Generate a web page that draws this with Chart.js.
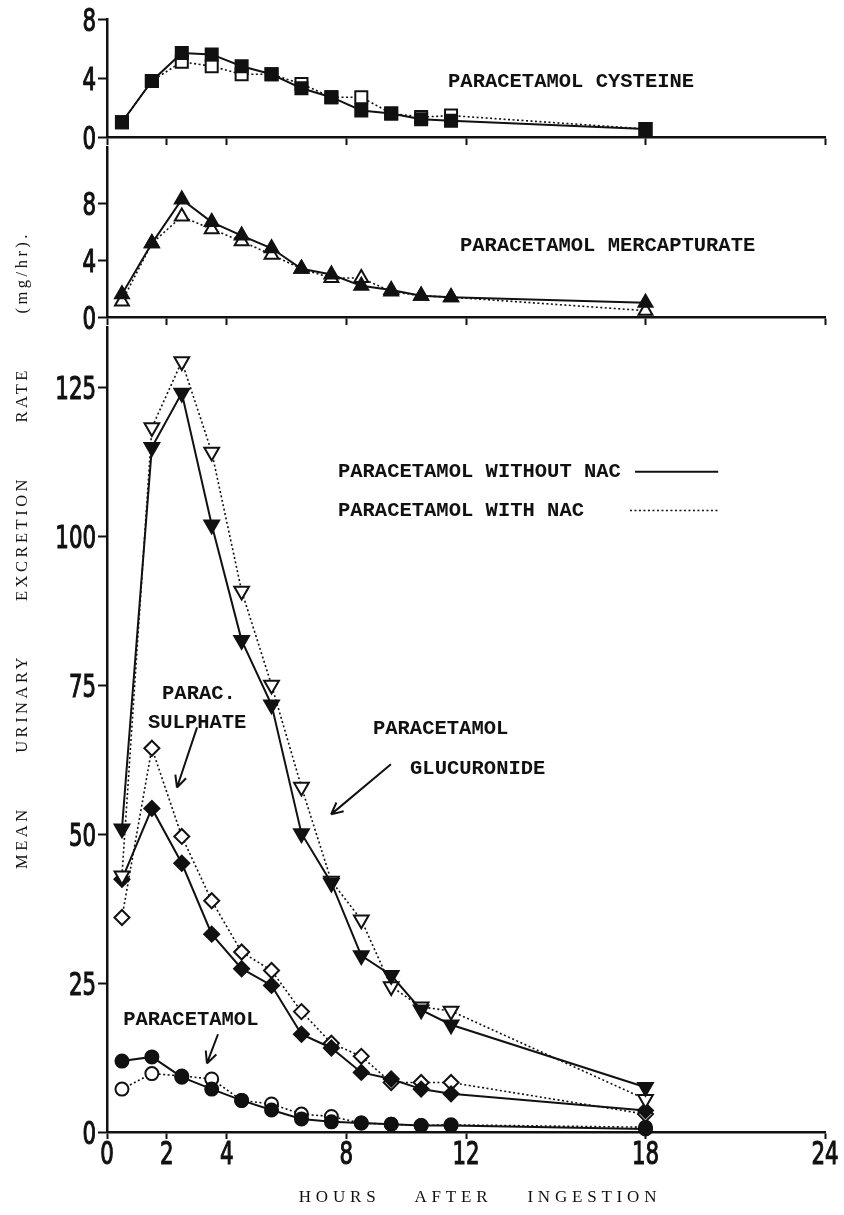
<!DOCTYPE html>
<html lang="en">
<head>
<meta charset="UTF-8">
<title>Mean urinary excretion rate of paracetamol and metabolites</title>
<script src="https://cdn.jsdelivr.net/npm/chart.js@4"></script>
<style>
  body { margin: 0; background: #fff; }
  .figure { position: relative; width: 844px; height: 1215px; overflow: hidden; background: #fff; }
  .figure canvas { position: absolute; left: 0; }
  #ytitle {
    position: absolute; left: 22px; top: 550px;
    transform: translate(-50%, -50%) rotate(-90deg);
    white-space: nowrap; color: #111;
    font: 16.5px 'Liberation Serif', 'DejaVu Serif', serif;
    letter-spacing: 3.5px; word-spacing: 46px;
  }
  #xtitle {
    position: absolute; left: 480px; top: 1197px;
    transform: translate(-50%, -50%);
    white-space: nowrap; color: #111;
    font: 17px 'Liberation Serif', 'DejaVu Serif', serif;
    letter-spacing: 4.8px; word-spacing: 26px;
  }
</style>
</head>
<body>
<div class="figure">
  <canvas id="cysteine" style="top:0px"></canvas>
  <canvas id="mercapturate" style="top:137px"></canvas>
  <canvas id="main" style="top:317px"></canvas>
  <div id="ytitle">MEAN URINARY EXCRETION RATE (mg/hr).</div>
  <div id="xtitle">HOURS AFTER INGESTION</div>
</div>

<script>
// sampling times (h) and axis ticks
const hours = [0.5, 1.5, 2.5, 3.5, 4.5, 5.5, 6.5, 7.5, 8.5, 9.5, 10.5, 11.5, 18];
const xTicks = [0, 2, 4, 8, 12, 18, 24];
const smallTicks = [0, 4, 8];
const mainTicks = [0, 25, 50, 75, 100, 125];

// mg/hr, without NAC (solid) and with NAC (dotted)
const cysteineWithout = [1.0, 3.8, 5.7, 5.6, 4.8, 4.25, 3.3, 2.7, 1.8, 1.6, 1.2, 1.1, 0.55];
const cysteineWith = [1.0, 3.8, 5.1, 4.8, 4.25, 4.25, 3.6, 2.7, 2.7, 1.6, 1.35, 1.45, 0.55];
const mercapWithout = [1.6, 5.2, 8.3, 6.7, 5.75, 4.85, 3.4, 3.0, 2.2, 1.9, 1.5, 1.4, 1.0];
const mercapWith = [1.1, 5.2, 7.1, 6.2, 5.35, 4.4, 3.4, 2.75, 2.75, 1.8, 1.5, 1.4, 0.45];
const glucWithout = [50.9, 114.9, 124.0, 101.9, 82.5, 71.7, 50.1, 41.8, 29.6, 26.3, 20.5, 18.0, 7.5];
const glucWith = [43.0, 118.2, 129.3, 114.1, 90.8, 75.0, 57.9, 42.1, 35.6, 24.4, 21.0, 20.3, 5.5];
const sulphWithout = [42.4, 54.3, 45.1, 33.2, 27.4, 24.6, 16.4, 14.1, 10.0, 8.9, 7.2, 6.4, 3.6];
const sulphWith = [36.0, 64.4, 49.6, 38.8, 30.2, 27.1, 20.2, 14.9, 12.7, 8.3, 8.3, 8.3, 3.0];
const paraWithout = [11.9, 12.6, 9.2, 7.2, 5.3, 3.7, 2.2, 1.7, 1.5, 1.3, 1.1, 1.1, 0.5];
const paraWith = [7.2, 9.8, 9.4, 8.9, 5.3, 4.7, 3.0, 2.6, 1.5, 1.3, 1.1, 1.2, 0.8];

const INK = '#111';
const typeFont = "bold 20.5px 'Liberation Mono', 'DejaVu Sans Mono', monospace";
// tall narrow numerals: condensed face squeezed sideways
const numFont = "32px 'DejaVu Sans Condensed', 'DejaVu Sans', sans-serif";
const numSqueeze = 0.74;
const numCap = 23.3;

function series(values, dotted, filled, pointStyle, radius, rotation) {
  return {
    data: hours.map((h, i) => ({ x: h, y: values[i] })),
    borderColor: INK,
    borderWidth: dotted ? 1.6 : 2,
    borderDash: dotted ? [2, 2.5] : [],
    pointStyle: pointStyle,
    pointRadius: radius,
    pointRotation: rotation || 0,
    pointBackgroundColor: filled ? INK : '#fff',
    pointBorderColor: INK,
    pointBorderWidth: 2,
    tension: 0,
    clip: false
  };
}

function squeezedText(ctx, text, x, y, align) {
  ctx.save();
  ctx.translate(x, y);
  ctx.scale(numSqueeze, 1);
  ctx.textAlign = align;
  ctx.lineWidth = 1.1;
  ctx.fillText(text, 0, 0);
  ctx.strokeText(text, 0, 0);
  ctx.restore();
}

// tick numerals, free text, arrows and line keys (placed in data units)
const notesPlugin = {
  id: 'notes',
  afterDatasetsDraw(chart, args, opts) {
    const { ctx, scales: { x, y } } = chart;
    ctx.save();
    ctx.fillStyle = INK;
    ctx.strokeStyle = INK;

    ctx.font = numFont;
    ctx.textBaseline = 'alphabetic';
    y.ticks.forEach(t => {
      squeezedText(ctx, String(t.value), y.right - 11, y.getPixelForValue(t.value) + numCap / 2, 'right');
    });
    if (opts.xLabels) {
      x.ticks.forEach(t => {
        squeezedText(ctx, String(t.value), x.getPixelForValue(t.value), x.top + 9 + numCap, 'center');
      });
    }

    ctx.font = typeFont;
    ctx.textBaseline = 'middle';
    ctx.textAlign = 'left';
    (opts.texts || []).forEach(t => {
      ctx.fillText(t.text, x.getPixelForValue(t.x), y.getPixelForValue(t.y));
    });
    (opts.arrows || []).forEach(a => {
      const x0 = x.getPixelForValue(a.from[0]), y0 = y.getPixelForValue(a.from[1]);
      const x1 = x.getPixelForValue(a.to[0]), y1 = y.getPixelForValue(a.to[1]);
      const ang = Math.atan2(y1 - y0, x1 - x0);
      ctx.lineWidth = 2;
      ctx.setLineDash([]);
      ctx.beginPath();
      ctx.moveTo(x0, y0);
      ctx.lineTo(x1, y1);
      [-0.45, 0.45].forEach(d => {
        ctx.moveTo(x1, y1);
        ctx.lineTo(x1 - 13 * Math.cos(ang + d), y1 - 13 * Math.sin(ang + d));
      });
      ctx.stroke();
    });
    (opts.keys || []).forEach(k => {
      const yy = y.getPixelForValue(k.y);
      ctx.lineWidth = k.dotted ? 1.6 : 2;
      ctx.setLineDash(k.dotted ? [2, 2.5] : []);
      ctx.beginPath();
      ctx.moveTo(x.getPixelForValue(k.x0), yy);
      ctx.lineTo(x.getPixelForValue(k.x1), yy);
      ctx.stroke();
    });
    ctx.restore();
  }
};

function makeChart(id, height, yMax, yTicks, datasets, notes, showX) {
  const canvas = document.getElementById(id);
  canvas.width = 844;
  canvas.height = height;
  canvas.style.width = '844px';
  canvas.style.height = height + 'px';
  notes.xLabels = showX;
  return new Chart(canvas, {
    type: 'line',
    data: { datasets: datasets },
    plugins: [notesPlugin],
    options: {
      responsive: false,
      animation: false,
      events: [],
      layout: { padding: { top: id === 'cysteine' ? 19 : 0, right: 19, left: 0, bottom: 0 } },
      plugins: { legend: { display: false }, tooltip: { enabled: false }, notes: notes },
      scales: {
        x: {
          type: 'linear', min: 0, max: 24,
          afterBuildTicks: s => { s.ticks = xTicks.map(v => ({ value: v })); },
          afterFit: s => { s.height = showX ? 83 : 20; s.paddingLeft = 0; s.paddingRight = 0; },
          border: { display: true, color: INK, width: 2.5 },
          grid: { display: true, drawOnChartArea: false, drawTicks: true, tickLength: showX ? 7 : 8, tickWidth: 2, tickColor: INK },
          ticks: { display: false }
        },
        y: {
          type: 'linear', min: 0, max: yMax,
          afterBuildTicks: s => { s.ticks = yTicks.map(v => ({ value: v })); },
          afterFit: s => { s.width = 107; s.paddingTop = 0; s.paddingBottom = 0; },
          border: { display: true, color: INK, width: 2.5 },
          grid: { display: true, drawOnChartArea: false, drawTicks: true, tickLength: 9, tickWidth: 2, tickColor: INK },
          ticks: { display: false }
        }
      }
    }
  });
}

makeChart('cysteine', 157, 8, smallTicks, [
  series(cysteineWithout, false, true, 'rect', 8.5),
  series(cysteineWith, true, false, 'rect', 8.5)
], {
  texts: [{ text: 'PARACETAMOL CYSTEINE', x: 11.4, y: 3.72 }]
}, false);

makeChart('mercapturate', 200, 12, smallTicks, [
  series(mercapWithout, false, true, 'triangle', 8),
  series(mercapWith, true, false, 'triangle', 8)
], {
  texts: [{ text: 'PARACETAMOL MERCAPTURATE', x: 11.8, y: 5.0 }]
}, false);

makeChart('main', 898, 135, mainTicks, [
  series(glucWithout, false, true, 'triangle', 8.5, 180),
  series(glucWith, true, false, 'triangle', 8.5, 180),
  series(sulphWithout, false, true, 'rectRot', 7.5),
  series(sulphWith, true, false, 'rectRot', 7.5),
  series(paraWithout, false, true, 'circle', 6.5),
  series(paraWith, true, false, 'circle', 6.5)
], {
  texts: [
    { text: 'PARACETAMOL WITHOUT NAC', x: 7.72, y: 110.8 },
    { text: 'PARACETAMOL WITH NAC', x: 7.72, y: 104.3 },
    { text: 'PARAC.', x: 1.84, y: 73.5 },
    { text: 'SULPHATE', x: 1.37, y: 68.7 },
    { text: 'PARACETAMOL', x: 8.89, y: 67.7 },
    { text: 'GLUCURONIDE', x: 10.13, y: 60.9 },
    { text: 'PARACETAMOL', x: 0.54, y: 18.8 }
  ],
  arrows: [
    { from: [3.01, 67.9], to: [2.34, 57.8] },
    { from: [9.49, 61.7], to: [7.49, 53.3] },
    { from: [3.71, 16.4], to: [3.34, 11.5] }
  ],
  keys: [
    { x0: 17.65, x1: 20.43, y: 110.8, dotted: false },
    { x0: 17.48, x1: 20.43, y: 104.3, dotted: true }
  ]
}, true);
</script>
</body>
</html>
